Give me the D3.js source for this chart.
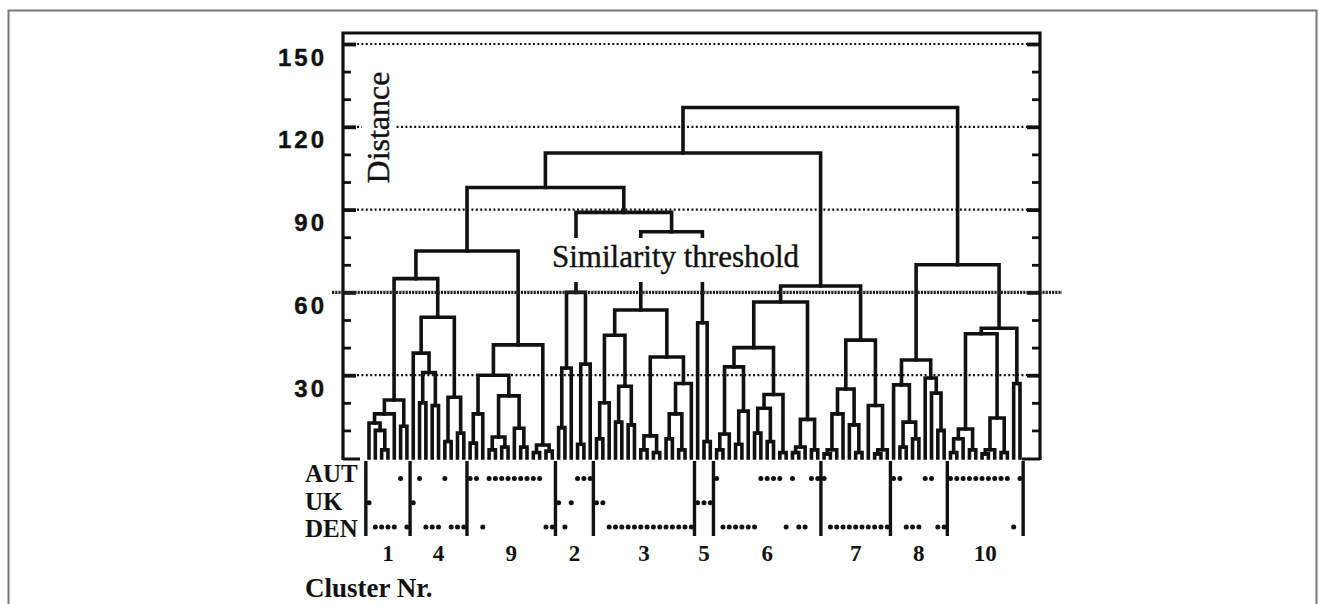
<!DOCTYPE html>
<html>
<head>
<meta charset="utf-8">
<script src="https://cdn.jsdelivr.net/npm/d3@7"></script>
<style>
  body { margin: 0; background: #fff; }
  svg { display: block; }
</style>
</head>
<body>
<svg id="chart" width="1325" height="604"></svg>
<script>
// Distance axis
const majorTicks = [30, 60, 90, 120, 150];
const minorTicks = [10, 20, 40, 50, 70, 80, 100, 110, 130, 140];
const gridLevels = [30, 90, 120, 150];
const threshold = 60;

// country rows (leaf codes A / U / D)
const countries = ["AUT", "UK", "DEN"];
const countryCodes = ["A", "U", "D"];
const clusterNames = ["1", "4", "9", "2", "3", "5", "6", "7", "8", "10"];

// each subtree: [merge distance, left, right]; a leaf is its country code
const c1 = [21, [16, [12.7, "U", [10, "D", [3, "D", "D"]]], "D"], [11.5, "A", "D"]];
const c4 = [51, [38, "U", [31, [20, "A", "D"], [19, "D", "D"]]], [22, [6, "A", "D"], [9, "D", "D"]]];
const c9 = [41, [30, [16, [5.4, "A", "A"], "D"], [22.5, [7.6, [3, "A", "A"], [4, "A", "A"]], [10.8, "A", [4, "A", "A"]]]], [4.7, [2, "A", "A"], [2.5, "D", "D"]]];
const c2 = [60, [32.6, [11, "U", "D"], "U"], [34, [5, "A", "A"], "A"]];
const c3 = [53.6, [44.5, [20, [7, "U", "U"], "D"], [26, [13, "D", "D"], [12, "D", "D"]]], [36.6, [8, [3, "D", "D"], [2, "D", "D"]], [27, [16, [7, "D", "D"], [3, "D", "D"]], "D"]]];
const c5 = [49, "U", [6, "U", "U"]];
const c6 = [56.5, [40, [33, [8.7, [3, "A", "D"], "D"], [17, [5, "D", "D"], "D"]], [23, [18, [9, "D", "A"], [6, "A", "A"]], [2, "A", "D"]]], [14, [4, [2, "A", "D"], "D"], [3, "A", "A"]]];
const c7 = [42.7, [25, [16, [3, [1.5, "A", "D"], "D"], "D"], [12, "D", [2, "D", "D"]]], [19, "D", [3, [1.5, "D", "D"], "D"]]];
const c8 = [35.5, [26.5, "A", [13, [4, "A", "D"], [7, "D", "D"]]], [29, "A", [23.5, "A", [10, "D", "D"]]]];
const c10 = [47, [45, [10.5, [7, [2, "A", "A"], "A"], [3, "A", "A"]], [14.5, [3, [1.5, "A", "A"], "A"], [2, "A", "A"]]], [27, "D", "A"]];

// upper merges
const tree = [127, [110.5, [98, [75, [65, c1, c4], c9], [89, c2, [82, c3, c5]]], [62.3, c6, c7]], [70, c8, c10]];
const clusters = [c1, c4, c9, c2, c3, c5, c6, c7, c8, c10];

const svg = d3.select("#chart");
const ink = "#111";
const serif = "'Liberation Serif', 'Times New Roman', serif";

const y = d3.scaleLinear().domain([0, 150]).range([458, 44]);
const xLeft = 343, xRight = 1040;

const root = d3.hierarchy(tree, d => Array.isArray(d) ? d.slice(1) : null);
const leaves = root.leaves();
const x = d3.scaleLinear().domain([0, leaves.length - 1]).range([369, 1020]);
leaves.forEach((d, i) => d.i = i);
root.eachAfter(d => {
    d.h = d.children ? d.data[0] : 0;
    d.px = d.children ? d3.mean(d.children, c => c.px) : x(d.i);
});

// outer frame
svg.append("rect")
    .attr("x", 8.5).attr("y", 10.5).attr("width", 1308).attr("height", 620)
    .attr("fill", "none").attr("stroke", "#777").attr("stroke-width", 2);

// grid lines
svg.append("g").selectAll("line")
    .data(gridLevels)
    .join("line")
    .attr("x1", 357).attr("x2", 1035)
    .attr("y1", d => y(d)).attr("y2", d => y(d))
    .attr("stroke", "#111").attr("stroke-width", 2.2)
    .attr("stroke-dasharray", "2,2.4");

// plot box
svg.append("path")
    .attr("d", `M${xLeft},${y(0) + 2}V33H${xRight}V${y(0) + 2}M${xLeft},${y(0) + 1}H${xLeft + 17}M${xRight - 18},${y(0) + 1}H${xRight}`)
    .attr("fill", "none").attr("stroke", ink).attr("stroke-width", 3.2);

function ticks(axis, values, size, width, tx) {
    const g = svg.append("g")
        .attr("transform", `translate(${tx},0)`)
        .call(axis(y).tickValues(values).tickSize(size).tickSizeOuter(0).tickFormat(""));
    g.select(".domain").remove();
    g.selectAll("line").attr("stroke", ink).attr("stroke-width", width);
}
ticks(d3.axisRight, minorTicks, 8, 2.8, xLeft);
ticks(d3.axisRight, majorTicks, 13, 3.8, xLeft);
ticks(d3.axisLeft, minorTicks, 8, 2.8, xRight);
ticks(d3.axisLeft, majorTicks, 13, 3.8, xRight);

// tick labels
const labels = svg.append("g")
    .attr("transform", `translate(${xLeft},0)`)
    .call(d3.axisLeft(y).tickValues(majorTicks).tickSize(0).tickPadding(16));
labels.select(".domain").remove();
labels.selectAll("text")
    .attr("dy", "0.875em")
    .attr("font-family", "'Liberation Sans', Arial, sans-serif")
    .attr("font-weight", "bold")
    .attr("font-size", 24)
    .attr("letter-spacing", 3)
    .attr("fill", ink)
    .attr("stroke", ink).attr("stroke-width", 0.4);

// axis title
svg.append("rect").attr("x", 362).attr("y", 68).attr("width", 34).attr("height", 122).attr("fill", "#fff");
svg.append("text")
    .attr("transform", "translate(389,127.5) rotate(-90)")
    .attr("text-anchor", "middle")
    .attr("font-family", serif)
    .attr("font-size", 32)
    .attr("fill", ink)
    .attr("stroke", ink).attr("stroke-width", 0.4)
    .text("Distance");

// dendrogram links
svg.append("g").selectAll("path")
    .data(root.descendants().filter(d => d.children))
    .join("path")
    .attr("d", d => {
        const [a, b] = d.children;
        return `M${a.px},${y(a.h)}V${y(d.h)}H${b.px}V${y(b.h)}`;
    })
    .attr("fill", "none")
    .attr("stroke", ink)
    .attr("stroke-width", 3.6)
    .attr("stroke-linecap", "square");

// similarity threshold
svg.append("rect").attr("x", 548).attr("y", 238).attr("width", 262).attr("height", 44).attr("fill", "#fff");
svg.append("text")
    .attr("x", 552).attr("y", 267)
    .attr("font-family", serif)
    .attr("font-size", 31)
    .attr("fill", ink)
    .attr("stroke", ink).attr("stroke-width", 0.4)
    .text("Similarity threshold");
svg.append("line")
    .attr("x1", 332).attr("x2", 1062)
    .attr("y1", y(threshold)).attr("y2", y(threshold))
    .attr("stroke", "#222").attr("stroke-width", 3.4)
    .attr("stroke-dasharray", "2.2,1");

// country rows
const rowY = d3.scalePoint().domain(countryCodes).range([478.5, 527]);
const rowLabelY = d3.scalePoint().domain(countries).range([482, 537]);

svg.append("g").selectAll("text")
    .data(countries)
    .join("text")
    .attr("x", 305).attr("y", d => rowLabelY(d))
    .attr("font-family", serif)
    .attr("font-weight", "bold")
    .attr("font-size", 25)
    .attr("fill", ink)
    .text(d => d);

svg.append("g").selectAll("circle")
    .data(leaves)
    .join("circle")
    .attr("cx", d => d.px)
    .attr("cy", d => rowY(d.data))
    .attr("r", 2.5)
    .attr("fill", ink);

// cluster separators and numbers
const byData = new Map(root.descendants().map(d => [d.data, d]));
const ranges = clusters.map(c => {
    const lv = byData.get(c).leaves();
    return [lv[0].i, lv[lv.length - 1].i];
});
const seps = [ranges[0][0] - 0.5, ...ranges.map(r => r[1] + 0.5)];

svg.append("g").selectAll("line")
    .data(seps)
    .join("line")
    .attr("x1", d => x(d)).attr("x2", d => x(d))
    .attr("y1", 461).attr("y2", 536)
    .attr("stroke", ink).attr("stroke-width", 3.4);

svg.append("g").selectAll("text")
    .data(clusterNames)
    .join("text")
    .attr("x", (d, i) => (x(seps[i]) + x(seps[i + 1])) / 2)
    .attr("y", 561)
    .attr("text-anchor", "middle")
    .attr("font-family", serif)
    .attr("font-weight", "bold")
    .attr("font-size", 23)
    .attr("fill", ink)
    .text(d => d);

svg.append("text")
    .attr("x", 305).attr("y", 597)
    .attr("font-family", serif)
    .attr("font-weight", "bold")
    .attr("font-size", 27)
    .attr("fill", ink)
    .text("Cluster Nr.");
</script>
</body>
</html>
